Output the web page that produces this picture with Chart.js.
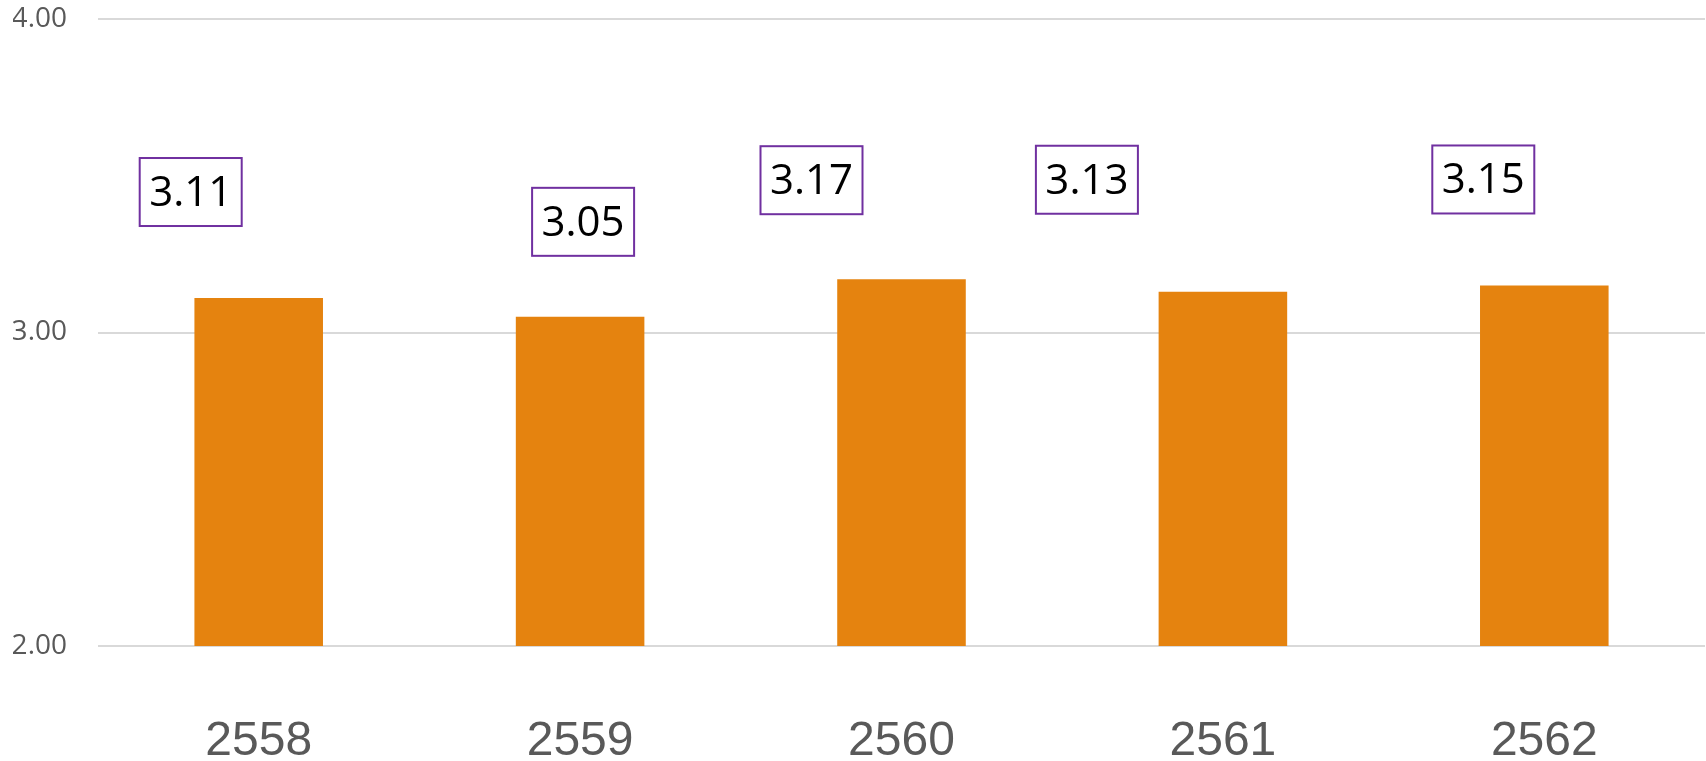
<!DOCTYPE html>
<html>
<head>
<meta charset="utf-8">
<script src="https://cdn.jsdelivr.net/npm/chart.js@4"></script>
<style>
  html, body { margin: 0; padding: 0; background: #fff; }
  #wrap { width: 1706px; height: 761px; position: relative; }
</style>
</head>
<body>
<div id="wrap"><canvas id="chart"></canvas></div>
<script>
// data
const years = ['2558', '2559', '2560', '2561', '2562'];
const scores = [3.11, 3.05, 3.17, 3.13, 3.15];
const yTicks = [2, 3, 4];

// boxed value labels, nudged the way they sit in the original
const boxLabels = {
    id: 'boxLabels',
    afterDatasetsDraw(chart, args, opts) {
        const ctx = chart.ctx;
        const meta = chart.getDatasetMeta(0);
        ctx.save();
        ctx.font = opts.font;
        ctx.textAlign = 'center';
        ctx.textBaseline = 'middle';
        meta.data.forEach((bar, i) => {
            const off = opts.offsets[i];
            const cx = bar.x + off[0], cy = bar.y + off[1];
            const w = opts.width, h = opts.height;
            ctx.fillStyle = '#fff';
            ctx.fillRect(cx - w / 2, cy - h / 2, w, h);
            ctx.strokeStyle = opts.border;
            ctx.lineWidth = 2;
            ctx.strokeRect(cx - w / 2, cy - h / 2, w, h);
            ctx.fillStyle = '#000';
            ctx.fillText(scores[i].toFixed(2), cx, cy + 2);
        });
        ctx.restore();
    }
};

new Chart(document.getElementById('chart').getContext('2d'), {
    type: 'bar',
    data: {
        labels: years,
        datasets: [{
            data: scores,
            backgroundColor: '#E5830F',
            barPercentage: 0.4,
            categoryPercentage: 1
        }]
    },
    options: {
        responsive: true,
        maintainAspectRatio: false,
        animation: false,
        layout: { padding: { left: 13, top: 19, right: 1, bottom: 0 } },
        plugins: {
            legend: { display: false },
            tooltip: { enabled: false },
            boxLabels: {
                font: '42px "Open Sans"',
                border: '#7030A0',
                width: 102,
                height: 68,
                offsets: [[-68, -106], [3, -95], [-90, -99], [-136, -112], [-61, -106]]
            }
        },
        scales: {
            x: {
                grid: { display: false, drawTicks: false },
                border: { display: false },
                ticks: {
                    color: '#595959',
                    font: { family: '"Liberation Sans", Arial', size: 48 },
                    padding: 67
                },
                afterFit(scale) {
                    scale.height = 115;
                    scale.paddingLeft = 0;
                    scale.paddingRight = 0;
                }
            },
            y: {
                min: 2,
                max: 4,
                afterBuildTicks(scale) {
                    scale.ticks = yTicks.map(v => ({ value: v }));
                },
                grid: { color: '#d9d9d9', lineWidth: 2, drawTicks: false },
                border: { display: false },
                ticks: {
                    color: '#595959',
                    font: { family: '"Open Sans"', size: 28 },
                    padding: 31,
                    callback: v => Number(v).toFixed(2)
                },
                afterFit(scale) {
                    scale.width = 85;
                    scale.paddingTop = 0;
                    scale.paddingBottom = 0;
                }
            }
        }
    },
    plugins: [boxLabels]
});
</script>
</body>
</html>
